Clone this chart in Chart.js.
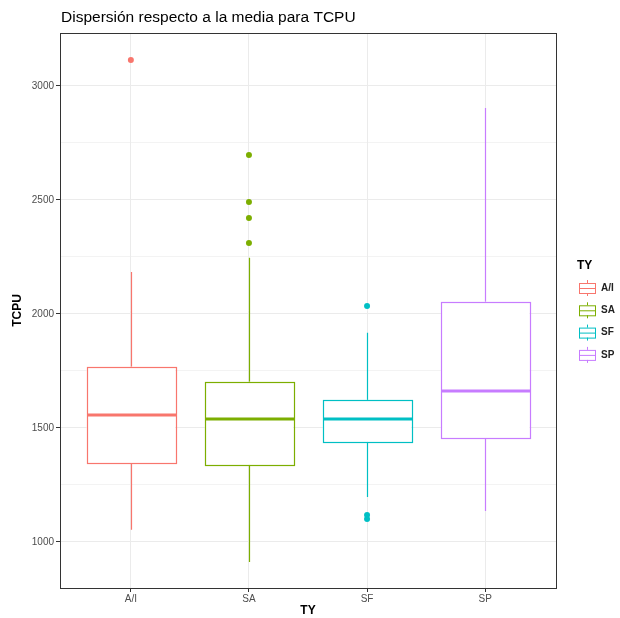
<!DOCTYPE html>
<html>
<head>
<meta charset="utf-8">
<script src="https://cdn.jsdelivr.net/npm/chart.js@4"></script>
<style>
  body { margin: 0; background: #fff; }
  #wrap { width: 620px; height: 618px; }
</style>
</head>
<body>
<div id="wrap"><canvas id="chart" width="620" height="618"></canvas></div>
<script>
const categories = ['A/I', 'SA', 'SF', 'SP'];
const q1 = [1346, 1338, 1439, 1456];
const medians = [1557, 1539, 1539, 1662];
const q3 = [1768, 1702, 1623, 2053];
const whiskerLow = [1053, 912, 1197, 1136];
const whiskerHigh = [2184, 2246, 1917, 2903];
const outliers = [[3114], [2697, 2491, 2421, 2311], [2035, 1118, 1101], []];
const yTicks = [1000, 1500, 2000, 2500, 3000];
const yMinorTicks = [1250, 1750, 2250, 2750];
const colors = ['#F8766D', '#7CAE00', '#00BFC4', '#C77CFF'];

const FONT = '"Liberation Sans", Arial, sans-serif';

// boxplot bodies, whiskers and medians
const boxPlugin = {
  id: 'boxes',
  beforeDatasetsDraw(chart) {
    const ctx = chart.ctx;
    const x = chart.scales.x, y = chart.scales.y;
    ctx.save();
    categories.forEach((c, i) => {
      const cx = Math.round(x.getPixelForValue(i + 1)) + 0.5;
      const left = x.getPixelForValue(i + 1 - 0.375);
      const right = x.getPixelForValue(i + 1 + 0.375);
      ctx.strokeStyle = colors[i];
      ctx.lineWidth = 1.2;
      ctx.beginPath();
      ctx.moveTo(cx, y.getPixelForValue(whiskerHigh[i]));
      ctx.lineTo(cx, y.getPixelForValue(q3[i]));
      ctx.moveTo(cx, y.getPixelForValue(q1[i]));
      ctx.lineTo(cx, y.getPixelForValue(whiskerLow[i]));
      ctx.stroke();
      const top = y.getPixelForValue(q3[i]);
      const bot = y.getPixelForValue(q1[i]);
      ctx.fillStyle = '#fff';
      ctx.fillRect(left, top, right - left, bot - top);
      ctx.strokeRect(Math.round(left) + 0.5, Math.round(top) + 0.5, Math.round(right - left), Math.round(bot - top));
      ctx.lineWidth = 3;
      ctx.beginPath();
      const my = y.getPixelForValue(medians[i]);
      ctx.moveTo(Math.round(left), my);
      ctx.lineTo(Math.round(right) + 1, my);
      ctx.stroke();
    });
    ctx.restore();
  },
  afterDraw(chart) {
    const ctx = chart.ctx;
    const a = chart.chartArea;
    ctx.save();
    // panel border
    ctx.strokeStyle = '#333333';
    ctx.lineWidth = 1;
    ctx.strokeRect(Math.round(a.left) + 0.5, Math.round(a.top) + 0.5, Math.round(a.right - a.left), Math.round(a.bottom - a.top));
    // title
    ctx.fillStyle = '#000';
    ctx.font = '15.5px ' + FONT;
    ctx.textAlign = 'left';
    ctx.textBaseline = 'middle';
    ctx.fillText('Dispersión respecto a la media para TCPU', a.left + 1, 18);
    // axis titles
    ctx.font = 'bold 12px ' + FONT;
    ctx.textAlign = 'center';
    ctx.fillText('TY', (a.left + a.right) / 2, 611);
    ctx.save();
    ctx.translate(18, (a.top + a.bottom) / 2);
    ctx.rotate(-Math.PI / 2);
    ctx.fillText('TCPU', 0, 0);
    ctx.restore();
    // legend
    ctx.textAlign = 'left';
    ctx.fillText('TY', 577, 266);
    ctx.font = 'bold 10px ' + FONT;
    categories.forEach((c, i) => {
      const ks = 20;
      const ky = 288 + i * 22.3 - ks / 2;
      const kx = 577;
      ctx.strokeStyle = colors[i];
      ctx.lineWidth = 1;
      const mx = Math.round(kx + ks / 2) + 0.5;
      ctx.beginPath();
      ctx.moveTo(mx, ky + ks * 0.1);
      ctx.lineTo(mx, ky + ks * 0.25);
      ctx.moveTo(mx, ky + ks * 0.75);
      ctx.lineTo(mx, ky + ks * 0.9);
      ctx.stroke();
      ctx.strokeRect(kx + ks * 0.1 + 0.5, ky + ks * 0.25 + 0.5, ks * 0.8, ks * 0.5);
      ctx.beginPath();
      ctx.moveTo(kx + ks * 0.1, ky + ks * 0.5 + 0.5);
      ctx.lineTo(kx + ks * 0.9, ky + ks * 0.5 + 0.5);
      ctx.stroke();
      ctx.fillStyle = '#222';
      ctx.fillText(c, 601, ky + ks / 2);
    });
    ctx.restore();
  }
};

const ctx = document.getElementById('chart').getContext('2d');
new Chart(ctx, {
  type: 'scatter',
  data: {
    datasets: categories.map((c, i) => ({
      label: c,
      data: outliers[i].map(v => ({ x: i + 1, y: v })),
      backgroundColor: colors[i],
      borderWidth: 0,
      pointRadius: 3
    }))
  },
  options: {
    responsive: false,
    animation: false,
    layout: { padding: { left: 0, top: 33, right: 64, bottom: 0 } },
    plugins: { legend: { display: false }, tooltip: { enabled: false } },
    scales: {
      x: {
        type: 'linear',
        min: 0.4,
        max: 4.6,
        afterBuildTicks: s => { s.ticks = [1, 2, 3, 4].map(v => ({ value: v })); },
        afterFit: s => { s.height = 30; },
        ticks: {
          callback: v => categories[v - 1],
          color: '#4D4D4D',
          font: { family: FONT, size: 10 },
          padding: 1,
          maxRotation: 0
        },
        grid: { color: '#EBEBEB', lineWidth: 1, tickLength: 4, tickColor: '#333333' },
        border: { display: false }
      },
      y: {
        min: 798,
        max: 3232,
        afterBuildTicks: s => {
          s.ticks = yTicks.concat(yMinorTicks).sort((a, b) => a - b).map(v => ({ value: v }));
        },
        afterFit: s => { s.width = 60; },
        ticks: {
          callback: v => yTicks.includes(v) ? String(v) : '',
          color: '#4D4D4D',
          font: { family: FONT, size: 10 },
          padding: 2
        },
        grid: {
          color: '#EBEBEB',
          lineWidth: c => yTicks.includes(c.tick && c.tick.value) ? 1 : 0.6,
          tickLength: 4,
          tickColor: c => yTicks.includes(c.tick && c.tick.value) ? '#333333' : 'rgba(0,0,0,0)'
        },
        border: { display: false }
      }
    }
  },
  plugins: [boxPlugin]
});
</script>
</body>
</html>
